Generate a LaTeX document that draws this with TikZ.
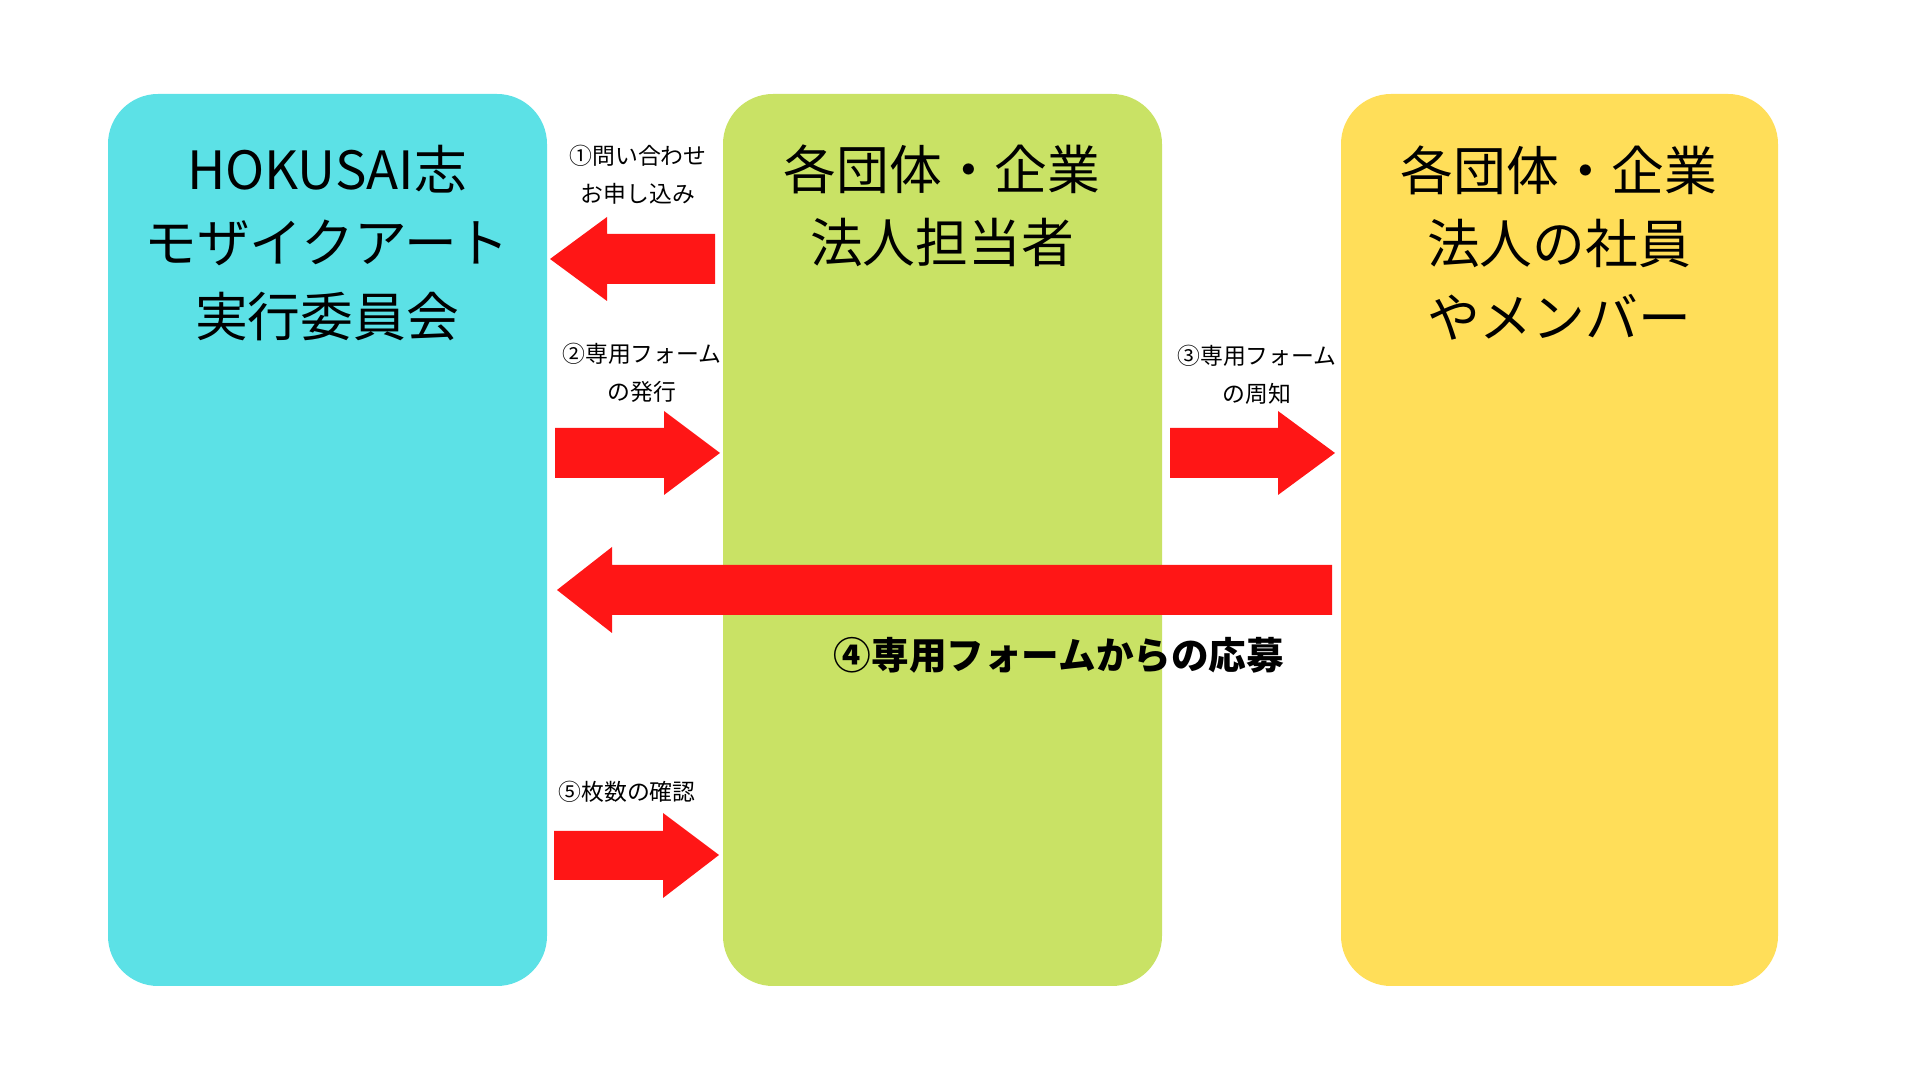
\documentclass[tikz,border=0pt]{standalone}
\usepackage{fontspec}
\setmainfont{Noto Sans CJK JP}
\usepackage{xcolor}
\usepackage{tikz}
\usetikzlibrary{
	positioning,
}
\definecolor{panelcyan}{HTML}{5CE1E6}
\definecolor{panelgreen}{HTML}{C9E265}
\definecolor{panelyellow}{HTML}{FFDE59}
\definecolor{arrowred}{HTML}{FF1616}

\tikzset{
	panel/.style={rounded corners=5mm},
	redarrow/.style={fill=arrowred},
	title/.style={font=\fontsize{15pt}{20.8pt}\selectfont, align=center, inner sep=0pt},
	note/.style={font=\fontsize{6.5pt}{10.8pt}\selectfont, align=center, inner sep=0pt},
}

\begin{document}
\begin{tikzpicture}[x=0.01cm, y=-0.01cm]
            \useasboundingbox (0,0) rectangle (1920,1080);

            % three panels
            \fill[panel, panelcyan]   (108,94) rectangle (547,986);
            \fill[panel, panelgreen]  (723,94) rectangle (1162,986);
            \fill[panel, panelyellow] (1341,94) rectangle (1778,986);

            \node[title] (committee) at (327,243) {HOKUSAI志\\モザイクアート\\実行委員会};
            \node[title] (contact)   at (942,206) {各団体・企業\\法人担当者};
            \node[title] (members)   at (1559,243) {各団体・企業\\法人の社員\\やメンバー};

            % block arrows
            \fill[redarrow] (550,259) -- (607,217) -- (607,234) -- (715,234)
                -- (715,284) -- (607,284) -- (607,301) -- cycle;
            \fill[redarrow] (555,428) -- (664,428) -- (664,411) -- (720,453)
                -- (664,495) -- (664,478) -- (555,478) -- cycle;
            \fill[redarrow] (1170,428) -- (1278,428) -- (1278,411) -- (1335,453)
                -- (1278,495) -- (1278,478) -- (1170,478) -- cycle;
            \fill[redarrow] (557,590) -- (612,547) -- (612,565) -- (1332,565)
                -- (1332,615) -- (612,615) -- (612,633) -- cycle;
            \fill[redarrow] (554,831) -- (663,831) -- (663,813) -- (719,855)
                -- (663,898) -- (663,880) -- (554,880) -- cycle;

            % step labels
            \node[note] (inquiry) at (638,175) {①問い合わせ\\お申し込み};
            \node[note] (issue)   at (642,373) {②専用フォーム\\の発行};
            \node[note] (notice)  at (1257,375) {③専用フォーム\\の周知};
            \node[note, font=\fontsize{10.7pt}{12pt}\selectfont\bfseries] (apply) at (1059,655) {④専用フォームからの応募};
            \node[note] (count)   at (627,792) {⑤枚数の確認};
	\end{tikzpicture}
\end{document}
